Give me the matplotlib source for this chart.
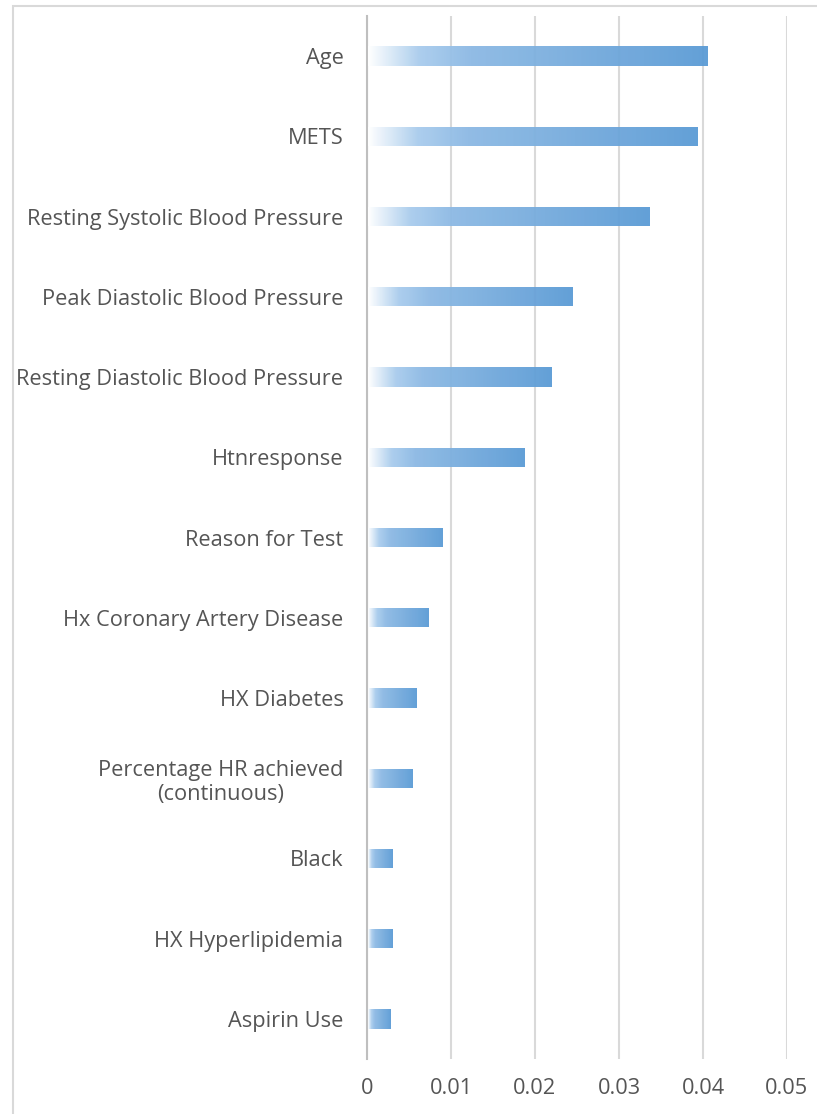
import numpy as np
import matplotlib
matplotlib.use("Agg")
from matplotlib import pyplot as plt
from matplotlib.colors import LinearSegmentedColormap
from matplotlib.patches import Rectangle

# feature importances, top to bottom as in the chart
features = [
    "Age",
    "METS",
    "Resting Systolic Blood Pressure",
    "Peak Diastolic Blood Pressure",
    "Resting Diastolic Blood Pressure",
    "Htnresponse",
    "Reason for Test",
    "Hx Coronary Artery Disease",
    "HX Diabetes",
    "Percentage HR achieved\n(continuous)",
    "Black",
    "HX Hyperlipidemia",
    "Aspirin Use",
]
importance = [0.0405, 0.0393, 0.0336, 0.0245, 0.0219, 0.0187, 0.0090,
              0.0073, 0.0059, 0.0054, 0.0030, 0.0030, 0.0028]
xticks = [0, 0.01, 0.02, 0.03, 0.04, 0.05]
xticklabels = ["0", "0.01", "0.02", "0.03", "0.04", "0.05"]

plt.rcParams["font.family"] = ["Open Sans", "DejaVu Sans"]
text_color = "#555555"

fig = plt.figure(figsize=(8.17, 11.14), dpi=100)
ax = fig.add_axes([367 / 817, 55 / 1114, 420 / 817, 1043 / 1114])

# chart border like the spreadsheet frame
fig.patches.append(Rectangle((13 / 817, -0.1), 1.2, 1 - 6 / 1114 + 0.1,
                             transform=fig.transFigure, fill=False,
                             edgecolor="#d9d9d9", linewidth=1.5, zorder=0))

y = np.arange(len(features))
bars = ax.barh(y, importance, height=0.24, color="none", edgecolor="none", zorder=3)

cmap = LinearSegmentedColormap.from_list(
    "grad", [(0.0, "#ffffff"), (0.15, "#a9cced"), (0.3, "#8cb9e4"), (1.0, "#5b9bd5")])
grad = np.linspace(0, 1, 256).reshape(1, -1)
for b in bars:
    x0, y0 = b.get_x(), b.get_y()
    w, h = b.get_width(), b.get_height()
    im = ax.imshow(grad, cmap=cmap, aspect="auto", extent=[x0 + 0.0001, x0 + w, y0 + h, y0],
                   zorder=3, alpha=0.95, interpolation="bilinear")
    im.set_clip_path(b)

ax.set_ylim(len(features) - 0.5, -0.5)
ax.set_xlim(0, 0.05)
ax.set_yticks(y)
ax.set_yticklabels(features)
for lab in ax.get_yticklabels():
    lab.set_multialignment("center")
ax.set_xticks(xticks)
ax.set_xticklabels(xticklabels)

ax.tick_params(axis="y", length=0, pad=17, labelsize=15.7, labelcolor=text_color)
ax.tick_params(axis="x", length=0, pad=14, labelsize=15.7, labelcolor=text_color)

ax.grid(axis="x", color="#d9d9d9", linewidth=1.5, zorder=1)
ax.set_axisbelow(True)
for s in ["top", "right", "bottom"]:
    ax.spines[s].set_visible(False)
ax.spines["left"].set_color("#bfbfbf")
ax.spines["left"].set_linewidth(1.5)

fig.savefig("out.png", dpi=100)
